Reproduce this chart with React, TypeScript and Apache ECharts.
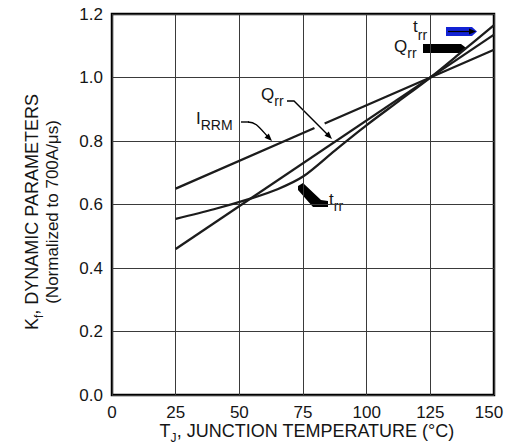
import React, { useEffect, useRef } from "react";
import * as echarts from "echarts";

// Data
const irrmData: (number | null)[][] = [
  [25, 0.65],
  [79.5, 0.841],
  [81.5, null],
  [83.5, 0.855],
  [150, 1.0875],
];
const qrrData: number[][] = [
  [25, 0.46],
  [150, 1.135],
];
const trrData: number[][] = [
  [25, 0.555],
  [40, 0.585],
  [55, 0.62],
  [65, 0.648],
  [75, 0.688],
  [87.5, 0.77],
  [100, 0.85],
  [112.5, 0.925],
  [125, 1.0],
  [137.5, 1.082],
  [150, 1.165],
];
const xMin = 0;
const xMax = 150;
const xInterval = 25;
const yMin = 0;
const yMax = 1.2;
const yInterval = 0.2;

const FONT = "'Liberation Sans', Arial, Helvetica, sans-serif";
const INK = "#151515";

function sub(main: number, subSize: number, pad: number) {
  return {
    a: { fontSize: main, fontFamily: FONT, fill: INK, color: INK, lineHeight: main + 2, verticalAlign: "top" },
    b: {
      fontSize: subSize,
      fontFamily: FONT,
      fill: INK,
      color: INK,
      lineHeight: subSize,
      padding: [pad, 0, 0, 0],
      verticalAlign: "top",
    },
  };
}

export default function App() {
  const ref = useRef<HTMLDivElement>(null);
  useEffect(() => {
    if (!ref.current) return;
    const chart = echarts.init(ref.current, undefined, { renderer: "svg" });
    const lineStyle = { color: "#1c1c1c", width: 2.3 };
    chart.setOption({
      animation: false,
      backgroundColor: "#ffffff",
      grid: {
        left: 112,
        right: 12,
        top: 14,
        bottom: 49,
        containLabel: false,
        outerBoundsMode: "none",
        show: true,
        borderColor: "#000",
        borderWidth: 2.5,
        backgroundColor: "transparent",
      },
      xAxis: {
        type: "value",
        min: xMin,
        max: xMax,
        interval: xInterval,
        axisLine: { show: false },
        axisTick: { show: false },
        splitLine: { show: true, lineStyle: { color: "#3a3a3a", width: 1 } },
        axisLabel: {
          fontSize: 17,
          fontFamily: FONT,
          color: INK,
          margin: 9,
          hideOverlap: false,
          formatter: (v: number) => (v === xMax ? "{r|" + v + "}" : String(v)),
          rich: { r: { fontSize: 17, fontFamily: FONT, color: INK, padding: [0, 10, 0, 0] } },
        },
      },
      yAxis: {
        type: "value",
        min: yMin,
        max: yMax,
        interval: yInterval,
        axisLine: { show: false },
        axisTick: { show: false },
        splitLine: { show: true, lineStyle: { color: "#3a3a3a", width: 1 } },
        axisLabel: {
          fontSize: 17,
          fontFamily: FONT,
          color: INK,
          margin: 9,
          formatter: (v: number) => v.toFixed(1),
        },
      },
      series: [
        { name: "IRRM", type: "line", data: irrmData, showSymbol: false, connectNulls: false, lineStyle },
        { name: "Qrr", type: "line", data: qrrData, showSymbol: false, lineStyle },
        { name: "trr", type: "line", data: trrData, showSymbol: false, smooth: 0.3, lineStyle },
      ],
      graphic: [
        // Y axis title (two rotated lines)
        {
          type: "text",
          x: 33,
          y: 212,
          rotation: Math.PI / 2,
          style: {
            text: "{a|K}{b|f}{a|, DYNAMIC PARAMETERS}",
            fill: INK,
            align: "center",
            verticalAlign: "middle",
            rich: sub(18, 12, 10),
          },
        },
        {
          type: "text",
          x: 52,
          y: 212,
          rotation: Math.PI / 2,
          style: {
            text: "(Normalized to 700A/μs)",
            fontSize: 17,
            fontFamily: FONT,
            fill: INK,
            align: "center",
            verticalAlign: "middle",
          },
        },
        // X axis title
        {
          type: "text",
          x: 307,
          y: 432,
          style: {
            text: "{a|T}{b|J}{a|, JUNCTION TEMPERATURE (°C)}",
            fill: INK,
            align: "center",
            verticalAlign: "middle",
            rich: sub(18, 12, 10),
          },
        },
        // I_RRM label and leader
        {
          type: "text",
          x: 196,
          y: 110,
          style: { text: "{a|I}{b|RRM}", fill: INK, rich: sub(17, 14, 8) },
        },
        { type: "line", shape: { x1: 241, y1: 122, x2: 249, y2: 122 }, style: { stroke: "#000", lineWidth: 1.4 } },
        {
          type: "bezierCurve",
          shape: { x1: 248, y1: 122, cpx1: 256, cpy1: 122, cpx2: 259, cpy2: 127, x2: 268, y2: 137 },
          style: { stroke: "#000", lineWidth: 1.4, fill: null },
        },
        {
          type: "polygon",
          shape: { points: [[272, 141], [264.5, 137.8], [268.8, 133.5]] },
          style: { fill: "#000" },
        },
        // Q_rr label and leader
        {
          type: "text",
          x: 261,
          y: 86,
          style: { text: "{a|Q}{b|rr}", fill: INK, rich: sub(17, 14, 8) },
        },
        {
          type: "polyline",
          shape: { points: [[287, 101], [294, 101], [328, 135]] },
          style: { stroke: "#000", lineWidth: 1.4, fill: null },
        },
        {
          type: "polygon",
          shape: { points: [[332, 139], [324.5, 135.8], [328.8, 131.5]] },
          style: { fill: "#000" },
        },
        // t_rr bottom marker
        {
          type: "polygon",
          shape: {
            points: [[298, 186], [303, 183], [321, 200], [328, 201], [328, 207], [313, 207], [298, 190]],
          },
          style: { fill: "#000" },
        },
        {
          type: "text",
          x: 329,
          y: 191,
          style: { text: "{a|t}{b|rr}", fill: INK, rich: sub(17, 14, 8) },
        },
        // top-right legend markers
        {
          type: "text",
          x: 413,
          y: 18,
          style: { text: "{a|t}{b|rr}", fill: INK, rich: sub(17, 14, 10) },
        },
        {
          type: "polygon",
          shape: { points: [[446, 27], [472, 27], [477, 31.5], [472, 36], [446, 36]] },
          style: { fill: "#1222d4" },
        },
        { type: "line", shape: { x1: 448, y1: 31.5, x2: 470, y2: 31.5 }, style: { stroke: "#000", lineWidth: 1.2 } },
        {
          type: "polygon",
          shape: { points: [[476, 31.5], [469, 28.5], [469, 34.5]] },
          style: { fill: "#000" },
        },
        {
          type: "text",
          x: 394,
          y: 38,
          style: { text: "{a|Q}{b|rr}", fill: INK, rich: sub(17, 14, 8) },
        },
        {
          type: "polygon",
          shape: { points: [[423, 44], [461, 44], [467, 48.5], [461, 53], [423, 53]] },
          style: { fill: "#000" },
        },
      ],
    });
    return () => chart.dispose();
  }, []);
  return (
    <div
      ref={ref}
      style={{ position: "fixed", left: 0, top: 0, width: 506, height: 444, background: "#fff" }}
    />
  );
}
